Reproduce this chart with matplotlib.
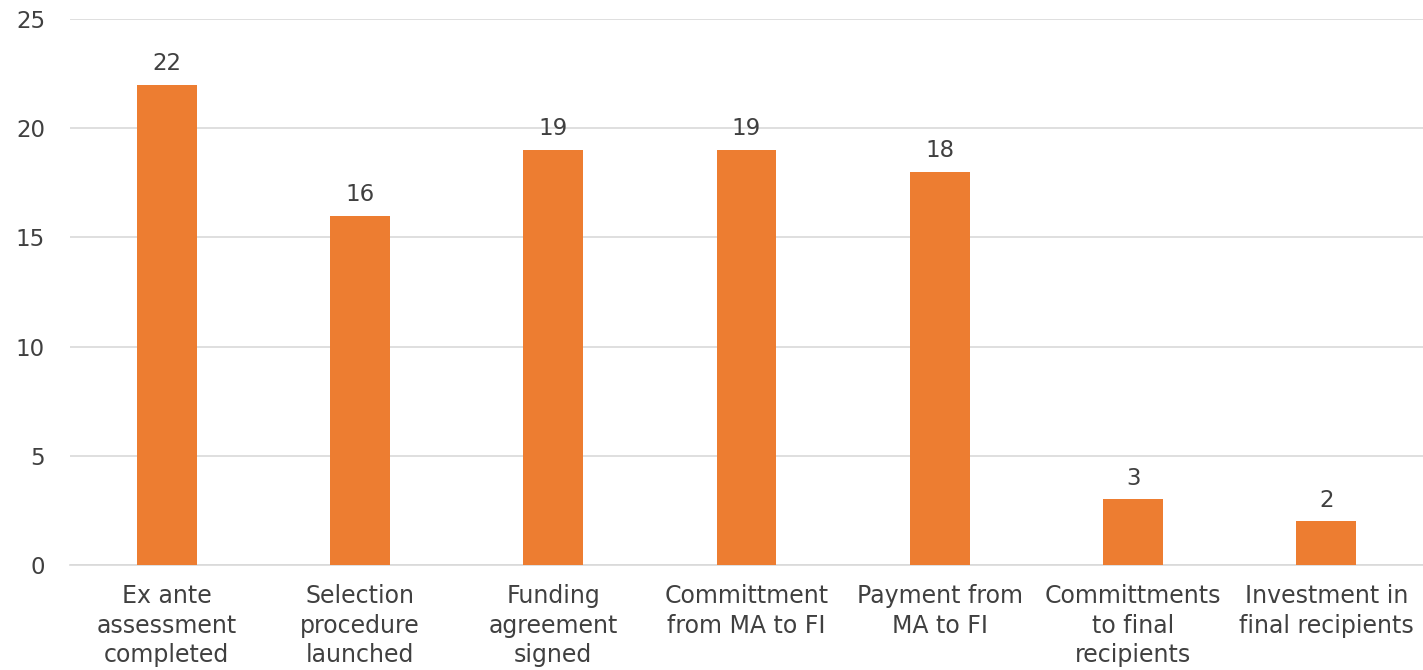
import matplotlib
matplotlib.use("Agg")
import matplotlib.pyplot as plt

categories = ["Ex ante\nassessment\ncompleted", "Selection\nprocedure\nlaunched",
              "Funding\nagreement\nsigned", "Committment\nfrom MA to FI",
              "Payment from\nMA to FI", "Committments\nto final\nrecipients",
              "Investment in\nfinal recipients"]
values = [22, 16, 19, 19, 18, 3, 2]
yticks = [0, 5, 10, 15, 20, 25]

text_color = "#404040"
bar_color = "#ED7D31"

plt.rcParams['font.family'] = ['DejaVu Sans']
fig = plt.figure(figsize=(14.23, 6.70), dpi=100)
ax = fig.add_axes([70/1423, 105/670, 1353/1423, 546/670])
x = list(range(len(categories)))
bars = ax.bar(x, values, width=0.31, color=bar_color, zorder=3)
for xi, v in zip(x, values):
    ax.annotate(str(v), (xi, v), xytext=(0, 7), textcoords="offset points",
                ha="center", va="bottom", fontsize=16.5, color=text_color)
ax.set_xlim(-0.5, len(categories) - 0.5)
ax.set_ylim(0, 25)
ax.set_yticks(yticks)
ax.set_xticks(x)
ax.set_xticklabels(categories, fontsize=17, color=text_color, linespacing=1.28)
ax.tick_params(axis='y', labelsize=16.5, labelcolor=text_color, length=0, pad=18)
ax.tick_params(axis='x', length=0, pad=14)
ax.grid(axis='y', color="#D9D9D9", linewidth=1.2, zorder=0)
for s in ["top", "right", "left"]:
    ax.spines[s].set_visible(False)
ax.spines["bottom"].set_color("#D9D9D9")
ax.spines["bottom"].set_linewidth(1.2)
fig.savefig("out.png", dpi=100)
